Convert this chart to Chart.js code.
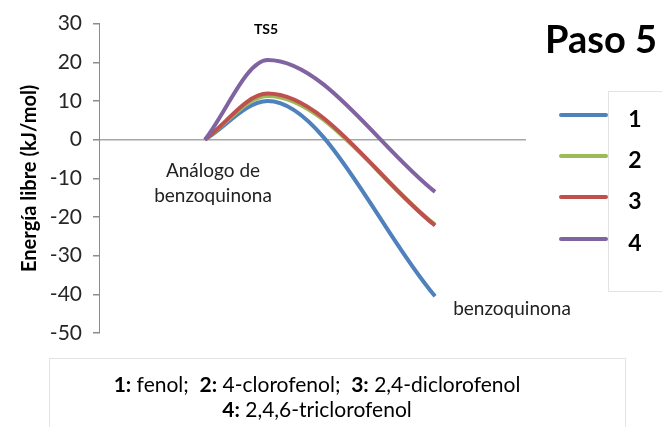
<!DOCTYPE html>
<html>
<head>
<meta charset="utf-8">
<script src="https://cdn.jsdelivr.net/npm/chart.js@4/dist/chart.umd.min.js"></script>
<style>
html,body{margin:0;padding:0;background:#fff;}
#wrap{width:662px;height:427px;position:relative;}
</style>
</head>
<body>
<div id="wrap"><canvas id="c" width="662" height="427"></canvas></div>
<script>
// Reaction coordinate positions (start, TS5, product)
const xPositions = [2.48, 3.95, 7.87];
const seriesNames = ['1', '2', '3', '4'];
const series1 = [0, 10.0, -40.5];
const series2 = [0, 11.3, -22.0];
const series3 = [0, 11.9, -22.2];
const series4 = [0, 20.6, -13.5];
const yTicks = [30, 20, 10, 0, -10, -20, -30, -40, -50];
const colors = ['#4F81BD', '#9BBB59', '#C0504D', '#8064A2'];

const allSeries = [series1, series2, series3, series4];
const FONT = 'Lato, "Open Sans", "Liberation Sans", sans-serif';

const datasets = allSeries.map((s, i) => ({
  label: seriesNames[i],
  data: s.map((v, j) => ({x: xPositions[j], y: v})),
  borderColor: colors[i],
  backgroundColor: colors[i],
  borderWidth: 4,
  pointRadius: 0,
  cubicInterpolationMode: 'monotone',
  showLine: true,
  fill: false,
  order: 4 - i
}));

const decor = {
  id: 'decor',
  afterDraw(chart) {
    const ctx = chart.ctx;
    ctx.save();
    // bottom note box
    ctx.strokeStyle = '#e3e3e3';
    ctx.lineWidth = 1;
    ctx.strokeRect(49.5, 358.5, 576, 80);
    // legend box
    ctx.strokeRect(608.5, 91.5, 80, 200);
    // legend entries
    const ly = [115, 156, 197, 239];
    ctx.lineCap = 'round';
    for (let i = 0; i < 4; i++) {
      ctx.strokeStyle = colors[i];
      ctx.lineWidth = 4;
      ctx.beginPath();
      ctx.moveTo(561, ly[i]);
      ctx.lineTo(606, ly[i]);
      ctx.stroke();
      ctx.fillStyle = '#000';
      ctx.font = 'bold 23px ' + FONT;
      ctx.textAlign = 'center';
      ctx.textBaseline = 'middle';
      ctx.fillText(seriesNames[i], 635, ly[i] + 5);
    }
    // title
    ctx.fillStyle = '#000';
    ctx.font = 'bold 38px ' + FONT;
    ctx.textAlign = 'center';
    ctx.textBaseline = 'middle';
    ctx.fillText('Paso 5', 601, 41);
    // TS5
    ctx.font = 'bold 14px ' + FONT;
    ctx.fillText('TS5', 266, 29);
    // annotations
    ctx.fillStyle = '#222';
    ctx.font = '19px ' + FONT;
    ctx.fillText('Análogo de', 213, 171);
    ctx.fillText('benzoquinona', 213, 196);
    ctx.fillText('benzoquinona', 512, 309);
    // bottom note lines with bold numbers
    const line1 = [['1:', true], [' fenol;  ', false], ['2:', true], [' 4-clorofenol;  ', false], ['3:', true], [' 2,4-diclorofenol', false]];
    const line2 = [['4:', true], [' 2,4,6-triclorofenol', false]];
    function drawRich(parts, cx, cy) {
      let w = 0;
      parts.forEach(p => { ctx.font = (p[1] ? 'bold ' : '') + '21px ' + FONT; w += ctx.measureText(p[0]).width; });
      let x = cx - w / 2;
      ctx.textAlign = 'left';
      parts.forEach(p => { ctx.font = (p[1] ? 'bold ' : '') + '21px ' + FONT; ctx.fillText(p[0], x, cy); x += ctx.measureText(p[0]).width; });
    }
    ctx.fillStyle = '#000';
    drawRich(line1, 317, 385);
    drawRich(line2, 317, 410);
    ctx.restore();
  }
};

new Chart(document.getElementById('c'), {
  type: 'scatter',
  data: { datasets },
  options: {
    responsive: false,
    animation: false,
    layout: { padding: { left: 0, top: 22, right: 136, bottom: 94 } },
    plugins: { legend: { display: false }, tooltip: { enabled: false } },
    scales: {
      x: { type: 'linear', min: 0, max: 10, display: false },
      y: {
        min: -50, max: 30,
        afterBuildTicks(scale) { scale.ticks = yTicks.map(v => ({value: v})); },
        afterFit(scale) { scale.width = 99; },
        border: { display: true, color: '#8c8c8c', width: 1 },
        grid: {
          drawOnChartArea: true,
          color: (c) => (c.tick && c.tick.value === 0) ? '#a6a6a6' : 'rgba(0,0,0,0)',
          lineWidth: 1.5,
          tickColor: '#8c8c8c',
          tickLength: 6
        },
        ticks: { color: '#262626', font: { family: FONT, size: 21 }, padding: 11 },
        title: { display: true, text: 'Energía libre (kJ/mol)', color: '#000', font: { family: FONT, size: 20, weight: 'bold' }, padding: { top: 18, bottom: 0 } }
      }
    }
  },
  plugins: [decor]
});
</script>
</body>
</html>
